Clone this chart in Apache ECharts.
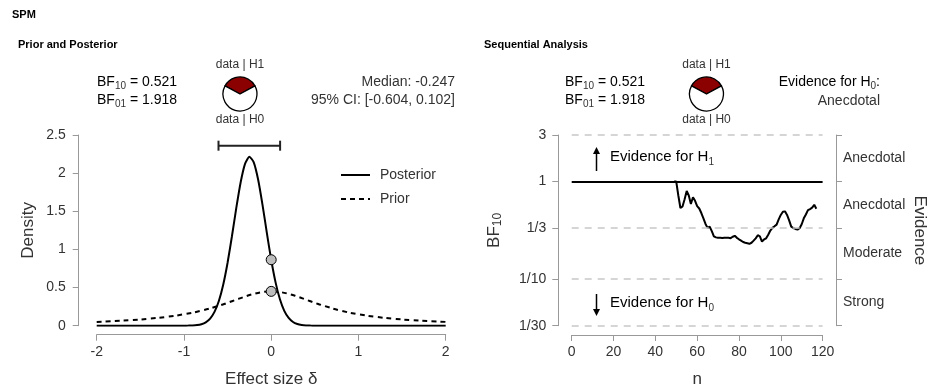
<!DOCTYPE html>
<html>
<head>
<meta charset="utf-8">
<script src="https://cdn.jsdelivr.net/npm/echarts@6/dist/echarts.min.js"></script>
<style>
  html, body { margin: 0; padding: 0; background: #fff; }
  #main { width: 929px; height: 389px; }
</style>
</head>
<body>
<div id="main"></div>
<script>
// 先验 / 后验密度
const posteriorX = [-2, -1.5, -1.0, -0.95, -0.9, -0.85, -0.8, -0.75, -0.7, -0.65, -0.6, -0.55, -0.5, -0.45, -0.4, -0.35, -0.3, -0.25, -0.2, -0.15, -0.1, -0.05, 0, 0.05, 0.1, 0.15, 0.2, 0.25, 0.3, 0.35, 0.4, 0.45, 0.5, 1.0, 1.5, 2]
const posteriorY = [0, 0, 0.0004, 0.0011, 0.0031, 0.0081, 0.0198, 0.0447, 0.0934, 0.181, 0.324, 0.537, 0.825, 1.173, 1.544, 1.881, 2.122, 2.216, 2.142, 1.917, 1.588, 1.217, 0.865, 0.568, 0.346, 0.195, 0.102, 0.049, 0.0219, 0.0091, 0.0035, 0.0012, 0.0004, 0, 0, 0]
const priorX = [-2, -1.8, -1.6, -1.4, -1.2, -1.0, -0.8, -0.6, -0.5, -0.4, -0.3, -0.2, -0.1, 0, 0.1, 0.2, 0.3, 0.4, 0.5, 0.6, 0.8, 1.0, 1.2, 1.4, 1.6, 1.8, 2]
const priorY = [0.050, 0.0602, 0.0736, 0.0915, 0.116, 0.150, 0.197, 0.262, 0.300, 0.341, 0.382, 0.417, 0.441, 0.450, 0.441, 0.417, 0.382, 0.341, 0.300, 0.262, 0.197, 0.150, 0.116, 0.0915, 0.0736, 0.0602, 0.050]
// delta = 0 处的两个点：后验、先验
const pointsAtZero = [0.865, 0.450]
const ciLow = -0.604
const ciHigh = 0.102
const bf10 = 0.521

// 序贯分析
const seqN = [49, 50, 51, 52, 53, 54, 55, 56, 57, 58, 59, 60, 61, 62, 63, 64, 65, 66, 67, 68, 69, 70, 71, 72, 73, 74, 75, 76, 77, 78, 79, 80, 81, 82, 83, 84, 85, 86, 87, 88, 89, 90, 91, 92, 93, 94, 95, 96, 97, 98, 99, 100, 101, 102, 103, 104, 105, 106, 107, 108, 109, 110, 111, 112, 113, 114, 115, 116, 117]
const seqBF = [1.0, 1.0, 0.72, 0.536, 0.556, 0.66, 0.80, 0.72, 0.59, 0.69, 0.635, 0.56, 0.53, 0.476, 0.42, 0.368, 0.335, 0.345, 0.31, 0.275, 0.268, 0.265, 0.265, 0.264, 0.266, 0.265, 0.265, 0.263, 0.272, 0.278, 0.265, 0.256, 0.248, 0.240, 0.236, 0.233, 0.230, 0.236, 0.248, 0.262, 0.282, 0.275, 0.243, 0.255, 0.262, 0.285, 0.315, 0.335, 0.348, 0.362, 0.41, 0.455, 0.49, 0.495, 0.455, 0.40, 0.345, 0.334, 0.327, 0.322, 0.333, 0.365, 0.42, 0.46, 0.51, 0.523, 0.54, 0.578, 0.527]
const bfTicks = [3, 1, 1 / 3, 1 / 10, 1 / 30]
const bfTickLabels = ['3', '1', '1/3', '1/10', '1/30']
const evidenceLabels = ['Anecdotal', 'Anecdotal', 'Moderate', 'Strong']

const FONT = 'Liberation Sans, Arial, sans-serif'
const TXT = '#333'
const AX = '#999'

const zip = (a, b) => a.map((v, i) => [v, b[i]])
const sameLog = (a, b) => Math.abs(Math.log10(a) - Math.log10(b)) < 1e-6
const bfMid = bfTicks.slice(1).map((v, i) => Math.sqrt(v * bfTicks[i]))
// 留一点余量，免得端点刻度被舍入误差过滤掉
const bfMin = bfTicks[bfTicks.length - 1] * 0.999
const bfMax = bfTicks[0] * 1.001

const sub = {fontSize: 10, lineHeight: 10, verticalAlign: 'bottom', fontFamily: FONT, color: TXT}
const rich = (size) => ({
  a: {fontSize: size, lineHeight: size + 5, fontFamily: FONT, color: TXT},
  s: Object.assign({}, sub, {fill: TXT})
})
const txt = (x, y, text, size, align, extra) => ({
  type: 'text', x, y, silent: true,
  style: Object.assign({
    text, fontSize: size, fontFamily: FONT, fill: TXT,
    align: align || 'left', verticalAlign: 'middle'
  }, extra || {})
})
const richTxt = (x, y, text, size, align) => ({
  type: 'text', x, y, silent: true,
  style: {text, align: align || 'left', verticalAlign: 'middle', rich: rich(size)}
})
// 竖向箭头
const arrow = (x, yTail, yHead) => {
  const d = yHead < yTail ? -1 : 1
  return {
    type: 'group', silent: true, children: [
      {type: 'line', shape: {x1: x, y1: yTail, x2: x, y2: yHead - d * 5}, style: {stroke: '#000', lineWidth: 1.5}},
      {type: 'polygon', shape: {points: [[x - 3.5, yHead - d * 7], [x + 3.5, yHead - d * 7], [x, yHead]]}, style: {fill: '#000'}}
    ]
  }
}

const myChart = echarts.init(document.getElementById('main'))

const axisBase = {
  axisLine: {show: true, onZero: false, lineStyle: {color: AX, width: 1}},
  axisTick: {show: true, length: 6, lineStyle: {color: AX}},
  splitLine: {show: false}
}

myChart.setOption({
  animation: false,
  textStyle: {fontFamily: FONT, color: TXT},
  grid: [
    {left: 96.7, right: 483.3, top: 135, bottom: 63.3},
    {left: 571.7, right: 105.7, top: 135, bottom: 62.3}
  ],
  legend: {
    data: ['Posterior', 'Prior'],
    orient: 'vertical',
    left: 340, top: 168, padding: 0,
    itemWidth: 29, itemHeight: 14, itemGap: 10,
    itemStyle: {color: 'transparent', borderColor: 'transparent', borderWidth: 0},
    textStyle: {fontSize: 14, color: TXT, padding: [0, 0, 0, 5]}
  },
  xAxis: [
    Object.assign({}, axisBase, {
      gridIndex: 0, type: 'value', min: -2, max: 2, interval: 1, offset: 9,
      axisLabel: {fontSize: 14, color: TXT, margin: 10},
      name: 'Effect size δ', nameLocation: 'middle', nameGap: 36,
      nameTextStyle: {fontSize: 17, color: TXT}
    }),
    Object.assign({}, axisBase, {
      gridIndex: 1, type: 'value', min: 0, max: 120, interval: 20, offset: 9.3,
      axisLabel: {fontSize: 14, color: TXT, margin: 10},
      name: 'n', nameLocation: 'middle', nameGap: 36,
      nameTextStyle: {fontSize: 17, color: TXT}
    })
  ],
  yAxis: [
    Object.assign({}, axisBase, {
      gridIndex: 0, type: 'value', min: 0, max: 2.5, interval: 0.5, offset: 18,
      axisLabel: {fontSize: 14, color: TXT, margin: 13},
      name: 'Density', nameLocation: 'middle', nameGap: 42,
      nameTextStyle: {fontSize: 17, color: TXT}
    }),
    Object.assign({}, axisBase, {
      gridIndex: 1, type: 'log', logBase: 10, min: bfMin, max: bfMax, offset: 13.4,
      axisTick: {show: true, length: 6, lineStyle: {color: AX}, customValues: bfTicks},
      axisLabel: {
        fontSize: 14, color: TXT, margin: 12, customValues: bfTicks,
        formatter: v => bfTickLabels[bfTicks.findIndex(t => sameLog(t, v))] || ''
      },
      name: 'BF{s|10}', nameLocation: 'middle', nameGap: 55,
      nameTextStyle: {fontSize: 17, color: TXT, rich: {s: {fontSize: 12, lineHeight: 12, verticalAlign: 'bottom', color: TXT}}}
    }),
    Object.assign({}, axisBase, {
      gridIndex: 1, type: 'log', logBase: 10, min: bfMin, max: bfMax, offset: 13.4, position: 'right',
      axisTick: {show: true, length: 6, lineStyle: {color: AX}, customValues: bfTicks},
      axisLabel: {
        fontSize: 14, color: TXT, margin: 7, align: 'left', customValues: bfMid,
        formatter: v => evidenceLabels[bfMid.findIndex(t => sameLog(t, v))] || ''
      },
      name: 'Evidence', nameLocation: 'middle', nameGap: 75, nameRotate: -90,
      nameTextStyle: {fontSize: 17, color: TXT}
    })
  ],
  series: [
    {
      name: 'Prior', type: 'line', xAxisIndex: 0, yAxisIndex: 0,
      data: zip(priorX, priorY), smooth: true, symbol: 'none',
      itemStyle: {color: '#000'},
      lineStyle: {color: '#000', width: 2, type: [5, 4]}
    },
    {
      name: 'Posterior', type: 'line', xAxisIndex: 0, yAxisIndex: 0,
      data: zip(posteriorX, posteriorY), smooth: 0.2, symbol: 'none',
      itemStyle: {color: '#000'},
      lineStyle: {color: '#000', width: 2}
    },
    {
      name: 'CI', type: 'custom', xAxisIndex: 0, yAxisIndex: 0, clip: false,
      data: [[ciLow, ciHigh]],
      renderItem(params, api) {
        const level = 2.36
        const a = api.coord([api.value(0), level])
        const b = api.coord([api.value(1), level])
        const st = {stroke: '#222', lineWidth: 2}
        return {
          type: 'group', children: [
            {type: 'line', shape: {x1: a[0], y1: a[1], x2: b[0], y2: b[1]}, style: st},
            {type: 'line', shape: {x1: a[0], y1: a[1] - 5, x2: a[0], y2: a[1] + 5}, style: st},
            {type: 'line', shape: {x1: b[0], y1: b[1] - 5, x2: b[0], y2: b[1] + 5}, style: st}
          ]
        }
      }
    },
    {
      name: 'points', type: 'scatter', xAxisIndex: 0, yAxisIndex: 0, z: 5,
      data: pointsAtZero.map(v => [0, v]), symbolSize: 10,
      itemStyle: {color: '#bdbdbd', borderColor: '#000', borderWidth: 1, opacity: 1}
    },
    {
      // 参考线：虚线网格与 BF = 1 的实线
      name: 'refLines', type: 'line', xAxisIndex: 1, yAxisIndex: 1, clip: false,
      data: [], symbol: 'none', silent: true,
      markLine: {
        silent: true, symbol: 'none', label: {show: false},
        data: bfTicks.map(t => [
          {coord: [0, t]},
          {
            coord: [120, t],
            lineStyle: sameLog(t, 1)
              ? {color: '#000', width: 2, type: 'solid'}
              : {color: '#c8c8c8', width: 1.5, type: [7, 6]}
          }
        ])
      }
    },
    {
      name: 'BF', type: 'line', xAxisIndex: 1, yAxisIndex: 1, z: 3,
      data: zip(seqN, seqBF), symbol: 'none',
      lineStyle: {color: '#000', width: 2}
    },
    {
      name: 'pieL', type: 'pie', center: [240, 94], radius: 17,
      startAngle: 90 + 180 * bf10 / (1 + bf10), clockwise: true,
      label: {show: false}, labelLine: {show: false}, silent: true,
      itemStyle: {borderColor: '#000', borderWidth: 1.3},
      data: [{value: bf10, itemStyle: {color: '#8b0000'}}, {value: 1, itemStyle: {color: '#fff'}}]
    },
    {
      name: 'pieR', type: 'pie', center: [706.5, 94], radius: 17,
      startAngle: 90 + 180 * bf10 / (1 + bf10), clockwise: true,
      label: {show: false}, labelLine: {show: false}, silent: true,
      itemStyle: {borderColor: '#000', borderWidth: 1.3},
      data: [{value: bf10, itemStyle: {color: '#8b0000'}}, {value: 1, itemStyle: {color: '#fff'}}]
    }
  ],
  graphic: [
    txt(12, 15, 'SPM', 11, 'left', {fontWeight: 'bold', fill: '#000'}),
    txt(18, 45, 'Prior and Posterior', 11, 'left', {fontWeight: 'bold', fill: '#000'}),
    txt(484, 45, 'Sequential Analysis', 11, 'left', {fontWeight: 'bold', fill: '#000'}),

    richTxt(97, 82, '{a|BF}{s|10}{a| = 0.521}', 14),
    richTxt(97, 100, '{a|BF}{s|01}{a| = 1.918}', 14),
    txt(240, 65, 'data | H1', 12, 'center'),
    txt(240, 120, 'data | H0', 12, 'center'),
    txt(455, 82, 'Median: -0.247', 14, 'right'),
    txt(455, 100, '95% CI: [-0.604, 0.102]', 14, 'right'),

    richTxt(565, 82, '{a|BF}{s|10}{a| = 0.521}', 14),
    richTxt(565, 100, '{a|BF}{s|01}{a| = 1.918}', 14),
    txt(706.5, 65, 'data | H1', 12, 'center'),
    txt(706.5, 120, 'data | H0', 12, 'center'),
    richTxt(880, 82, '{a|Evidence for H}{s|0}{a|:}', 14, 'right'),
    txt(880, 101, 'Anecdotal', 14, 'right'),

    arrow(596.5, 171, 147),
    richTxt(610, 157, '{a|Evidence for H}{s|1}', 15),
    arrow(596.5, 294, 316),
    richTxt(610, 303, '{a|Evidence for H}{s|0}', 15)
  ]
})
</script>
</body>
</html>
